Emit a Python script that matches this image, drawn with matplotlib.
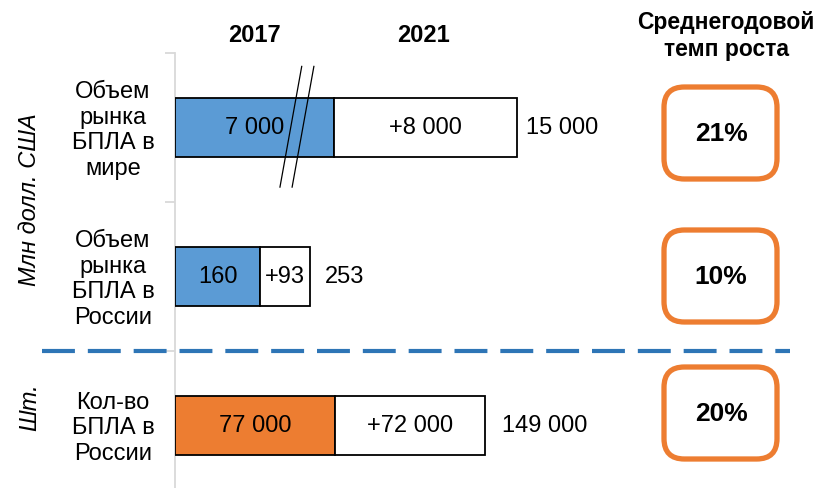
import matplotlib
matplotlib.use("Agg")
import matplotlib.pyplot as plt
from matplotlib.patches import FancyBboxPatch

plt.rcParams['font.family'] = ['Liberation Sans', 'DejaVu Sans']

# data
row_labels = ["Объем\nрынка\nБПЛА в\nмире",
              "Объем\nрынка\nБПЛА в\nРоссии",
              "Кол-во\nБПЛА в\nРоссии"]
base_2017 = [7000, 160, 77000]
growth = [8000, 93, 72000]
total_2021 = [15000, 253, 149000]
base_text = ["7 000", "160", "77 000"]
growth_text = ["+8 000", "+93", "+72 000"]
total_text = ["15 000", "253", "149 000"]
cagr = ["21%", "10%", "20%"]
row_xmax = [28100, 1200, 307600]   # each row has its own scale
base_colors = ["#5B9BD5", "#5B9BD5", "#ED7D31"]

W, H = 815, 489
fig = plt.figure(figsize=(W / 100, H / 100), dpi=100)


def fx(px):
    return px / W


def fy(py):
    return 1 - py / H


# gray category axis on the left
x0, x1 = 175, 815
top, band = 54, 149
axbg = fig.add_axes([fx(x0), fy(top + 3 * band), fx(x1 - x0), 3 * band / H])
axbg.set_xlim(0, 1)
axbg.set_ylim(3, 0)
axbg.set_xticks([])
axbg.set_yticks([0, 1, 2, 3])
axbg.set_yticklabels([])
axbg.tick_params(axis='y', length=7, color='#D9D9D9', width=1.3)
for s in ["top", "right", "bottom"]:
    axbg.spines[s].set_visible(False)
axbg.spines["left"].set_color('#D9D9D9')
axbg.spines["left"].set_linewidth(1.3)
axbg.patch.set_visible(False)

total_offset = [7, 10.5, 12]

for i in range(3):
    ax = fig.add_axes([fx(x0), fy(top + (i + 1) * band), fx(x1 - x0), band / H])
    ax.set_xlim(0, row_xmax[i])
    ax.set_ylim(-0.5, 0.5)
    ax.axis('off')
    ax.barh([0], [base_2017[i]], height=0.4, color=base_colors[i],
            edgecolor='black', linewidth=1.3)
    ax.barh([0], [growth[i]], left=[base_2017[i]], height=0.4, color='white',
            edgecolor='black', linewidth=1.3)
    ax.text(base_2017[i] / 2, 0, base_text[i], ha='center', va='center', fontsize=17)
    ax.text(base_2017[i] + growth[i] / 2, 0, growth_text[i], ha='center',
            va='center', fontsize=17)
    ax.annotate(total_text[i], (total_2021[i], 0), xytext=(total_offset[i], 0),
                textcoords='offset points', ha='left', va='center', fontsize=17)
    if i == 0:
        # axis break marks
        for xb in [0.181, 0.200]:
            ax.plot([xb + 0.017, xb - 0.017], [0.91, 0.10], color='black',
                    lw=0.9, transform=ax.transAxes, clip_on=False)

    # row label
    fig.text(fx(113), fy(top + (i + 0.5) * band + 2), row_labels[i], ha='center',
             va='center', fontsize=17, linespacing=1.2)

    # CAGR box
    cy = [134, 277, 414][i]
    box = FancyBboxPatch((fx(664), fy(cy + 46)), fx(113), 92 / H,
                         boxstyle="round,pad=0,rounding_size=0.025",
                         transform=fig.transFigure, facecolor='white',
                         edgecolor='#ED7D31', linewidth=3.8,
                         mutation_aspect=W / H)
    fig.patches.append(box)
    fig.text(fx(721), fy(cy), cagr[i], ha='center', va='center', fontsize=19,
             fontweight='bold')

# headers
fig.text(fx(254), fy(35), "2017", ha='center', va='center', fontsize=17,
         fontweight='bold')
fig.text(fx(423), fy(35), "2021", ha='center', va='center', fontsize=17,
         fontweight='bold')
fig.text(fx(726), fy(36), "Среднегодовой\nтемп роста", ha='center', va='center',
         fontsize=16.5, fontweight='bold', linespacing=1.2)

# units
fig.text(fx(30), fy(200), "Млн долл. США", rotation=90, ha='center', va='center',
         fontsize=17, fontstyle='italic')
fig.text(fx(30), fy(407), "Шт.", rotation=90, ha='center', va='center',
         fontsize=17, fontstyle='italic')

# dashed separator
fig.add_artist(plt.Line2D([fx(42), fx(790)], [fy(352), fy(352)], color='#2E75B6',
                          lw=3, dashes=(7.9, 3.1)))

fig.savefig("out.png", dpi=100)
